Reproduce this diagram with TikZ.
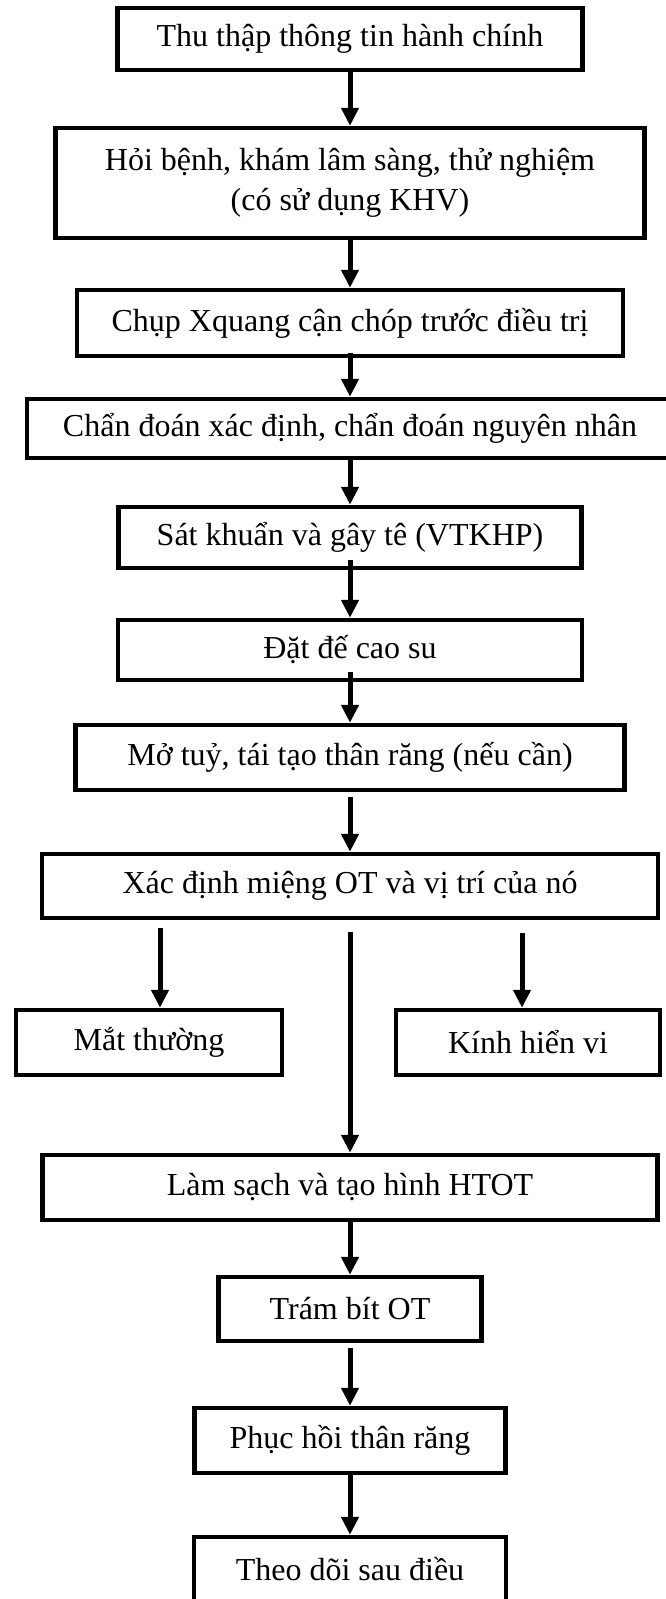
\documentclass[tikz,border=0pt]{standalone}
\usepackage{fontspec}
\setmainfont{Liberation Serif}
\usepackage{tikz}
\usetikzlibrary{arrows.meta,calc}

\tikzset{
stepbox/.style={draw, line width=4.5pt, rectangle, align=center, inner sep=0pt, font=\fontsize{32}{40}\selectfont},
arr/.style={line width=5pt, -{Triangle[length=18pt,width=17pt]}}
}

\begin{document}
\begin{tikzpicture}[x=1pt,y=-1pt]
\useasboundingbox (0,0) rectangle (665,1599);
\node[stepbox, minimum width=465pt, minimum height=62pt] (thuthap) at (350,39) {Thu thập thông tin hành chính};
\node[stepbox, minimum width=589pt, minimum height=110pt] (hoibenh) at (350,183) {Hỏi bệnh, khám lâm sàng, thử nghiệm\\(có sử dụng KHV)};
\node[stepbox, minimum width=546pt, minimum height=66pt] (xquang) at (350,323) {Chụp Xquang cận chóp trước điều trị};
\node[stepbox, minimum width=646pt, minimum height=59pt] (chandoan) at (350,428.5) {Chẩn đoán xác định, chẩn đoán nguyên nhân};
\node[stepbox, minimum width=463pt, minimum height=61pt] (gayte) at (350,537.5) {Sát khuẩn và gây tê (VTKHP)};
\node[stepbox, minimum width=464pt, minimum height=60pt] (caosu) at (350,650) {Đặt đế cao su};
\node[stepbox, minimum width=549pt, minimum height=65pt] (motuy) at (350,757.5) {Mở tuỷ, tái tạo thân răng (nếu cần)};
\node[stepbox, minimum width=616pt, minimum height=64pt] (mieng) at (350,886) {Xác định miệng OT và vị trí của nó};
\node[stepbox, minimum width=266pt, minimum height=65pt] (matthuong) at (149,1042.5) {Mắt thường};
\node[stepbox, minimum width=264pt, minimum height=65pt] (khv) at (528,1042.5) {Kính hiển vi};
\node[stepbox, minimum width=615pt, minimum height=65pt] (lamsach) at (350,1187.5) {Làm sạch và tạo hình HTOT};
\node[stepbox, minimum width=263pt, minimum height=64pt] (trambit) at (350,1309) {Trám bít OT};
\node[stepbox, minimum width=311pt, minimum height=65pt] (phuchoi) at (350,1440.5) {Phục hồi thân răng};
\node[stepbox, minimum width=312pt, minimum height=65pt] (theodoi) at (350,1569.5) {Theo dõi sau điều};
\draw[arr] (thuthap.south) -- (hoibenh.north);
\draw[arr] (hoibenh.south) -- (xquang.north);
\draw[arr] ([yshift=5pt]xquang.south) -- (chandoan.north);
\draw[arr] (chandoan.south) -- (gayte.north);
\draw[arr] ([yshift=10pt]gayte.south) -- (caosu.north);
\draw[arr] ([yshift=10pt]caosu.south) -- (motuy.north);
\draw[arr] ([yshift=-5pt]motuy.south) -- (mieng.north);
\coordinate (trai) at (160,928);
\coordinate (phai) at (522,933);
\draw[arr] (trai) -- (trai |- matthuong.north);
\draw[arr] (phai) -- (phai |- khv.north);
\draw[arr] ([yshift=-12pt]mieng.south) -- (lamsach.north);
\draw[arr] (lamsach.south) -- (trambit.north);
\draw[arr] ([yshift=-5pt]trambit.south) -- (phuchoi.north);
\draw[arr] (phuchoi.south) -- (theodoi.north);
\end{tikzpicture}
\end{document}
